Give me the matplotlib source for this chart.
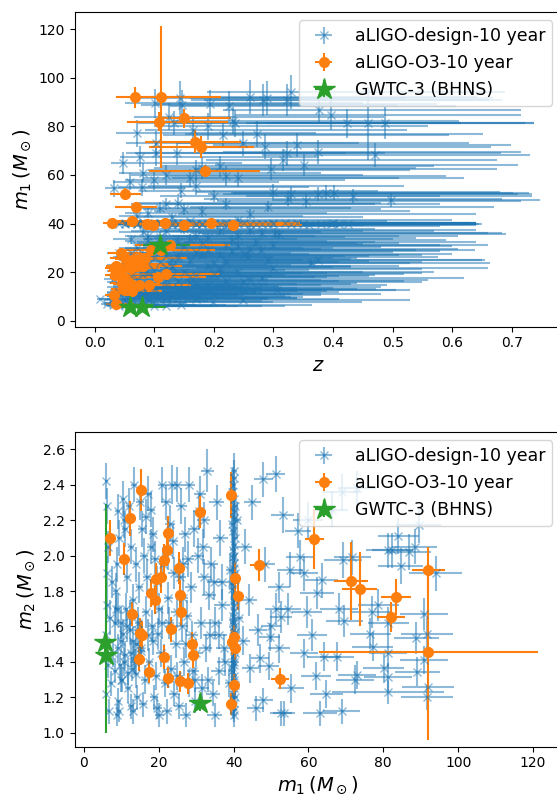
import numpy as np
import matplotlib.pyplot as plt

# aLIGO design sensitivity, 10 year BHNS catalogue
design_m1 = [6.0, 6.2, 6.5, 6.1, 6.3, 5.9, 6.4, 6.0, 6.6, 7.0,
             8.9, 7.8, 8.5, 9.0, 9.5, 8.8, 9.8, 10.2, 9.2, 10.0, 10.4, 8.3,
             12.0, 12.5, 11.5, 13.0, 12.2, 13.5, 11.8, 13.2, 12.6, 14.0, 13.8, 11.2,
             15.0, 15.5, 16.0, 14.8, 16.5, 15.2, 16.2, 15.8, 17.0, 14.5,
             18.0, 18.5, 19.0, 19.5, 20.0, 18.2, 20.5, 19.2, 18.8, 20.2, 17.5, 21.0,
             22.0, 23.0, 22.5, 24.0, 26.4, 22.8, 24.5, 23.2, 24.2, 22.2, 25.0, 21.5,
             26.0, 27.0, 28.0, 26.5, 28.5, 27.5, 29.0, 26.8, 28.2, 27.2, 29.8, 30.5, 31.2, 30.0, 29.5,
             32.0, 33.0, 34.0, 33.5, 35.0, 32.5, 36.0, 34.5, 35.0, 36.5, 37.0, 32.2,
             40.0, 39.8, 40.2, 40.1, 39.6, 40.4, 39.9, 40.0, 40.3, 39.7,
             40.1, 40.0, 39.8, 40.2, 40.0, 39.9, 40.3, 40.0, 39.7, 40.1,
             40.0, 40.4, 39.8, 40.2, 40.0, 39.9, 40.1, 41.0, 41.5, 39.0, 38.8,
             47.9, 51.2, 53.1, 52.1, 50.0, 49.4, 52.2, 52.7, 52.7, 51.4,
             49.7, 44.5, 45.9, 47.9, 55.4, 43.0, 44.0, 46.5, 45.0, 48.5,
             47.0, 42.5, 54.5, 55.0, 57.3, 58.8, 58.8, 57.8, 53.5,
             89.5, 91.6, 88.8, 84.0, 81.3, 89.1, 88.4, 92.0, 90.9, 91.6,
             94.0, 90.9, 86.8, 84.7, 81.3, 81.3, 81.3, 68.2, 69.6, 72.4,
             68.9, 66.2, 64.1, 71.7, 76.9, 81.3, 82.4, 76.5, 73.0, 62.3,
             77.2, 64.8, 67.6, 68.9, 69.2, 73.0, 63.0, 63.5, 78.7, 80.1,
             61.0, 60.0, 62.0, 59.5,
             7.5, 7.2, 9.0, 11.0, 10.8, 13.5, 14.2, 16.8, 17.2, 19.8,
             21.2, 21.8, 24.8, 25.5, 27.8, 29.2, 31.0, 31.5, 33.8, 36.8,
             37.5, 35.5, 23.8, 25.0, 12.6,
             40.0, 39.7, 40.3, 40.1, 39.9, 40.2, 39.8, 40.0, 40.4, 39.6,
             40.1, 40.0, 39.9, 40.3, 39.8, 40.2, 40.0, 39.7, 40.1, 40.4,
             39.9, 40.0, 40.2, 39.8, 40.1,
             8.2, 9.0, 9.6, 10.4, 11.0, 11.8, 12.4, 13.0, 13.6, 14.4, 15.2, 8.6, 10.0, 11.4, 12.8, 14.0, 9.4, 10.8,
             16.6, 18.4, 20.8, 23.6, 25.8, 27.4, 29.6, 31.8, 33.2, 34.8, 36.2, 37.8, 19.6, 22.6, 26.2, 30.8, 17.8]
design_m2 = [2.42, 2.28, 2.05, 1.90, 1.72, 1.55, 1.38, 1.22, 1.12, 1.65,
             1.10, 1.45, 1.80, 2.25, 2.10, 1.95, 1.62, 1.30, 1.18, 1.52, 2.32, 1.35,
             2.28, 2.05, 1.88, 1.75, 1.58, 1.42, 1.25, 1.12, 1.15, 1.95, 1.33, 1.70,
             2.30, 2.15, 2.00, 1.82, 1.68, 1.48, 1.30, 1.16, 1.55, 1.62,
             2.26, 2.12, 1.98, 1.85, 1.70, 1.60, 1.45, 1.32, 1.20, 1.10, 1.40, 2.40,
             2.30, 2.18, 2.02, 1.90, 1.76, 1.62, 1.50, 1.36, 1.22, 1.12, 2.40, 1.42,
             2.28, 2.12, 2.40, 1.95, 1.82, 1.66, 1.55, 1.40, 1.28, 1.10, 1.18, 2.00, 1.62, 1.45, 2.15,
             2.20, 2.48, 1.95, 1.78, 1.62, 1.48, 1.35, 1.22, 1.10, 2.10, 1.72, 1.88,
             2.48, 2.40, 2.32, 2.25, 2.18, 2.10, 2.03, 1.96, 1.90, 1.84,
             1.78, 1.72, 1.66, 1.60, 1.55, 1.50, 1.45, 1.40, 1.35, 1.30,
             1.25, 1.20, 1.15, 1.10, 2.00, 1.62, 1.38, 2.20, 1.65, 1.92, 1.28,
             2.43, 2.46, 2.23, 1.82, 1.60, 1.375, 1.476, 1.655, 1.11, 1.70,
             1.54, 1.363, 1.137, 1.185, 1.25, 2.05, 1.75, 1.58, 2.30, 1.95,
             1.42, 1.52, 1.70, 1.92, 2.14, 1.90, 1.448, 1.99, 1.11,
             2.17, 1.56, 1.533, 2.11, 1.45, 1.345, 2.05, 1.26, 1.67, 1.20,
             1.90, 1.41, 2.02, 1.94, 2.03, 1.23, 1.316, 1.70, 1.63, 1.30,
             2.36, 2.26, 1.43, 1.99, 1.68, 1.62, 2.03, 1.56, 1.326, 1.79,
             1.486, 1.22, 1.43, 1.122, 1.975, 2.38, 1.11, 1.86, 1.72, 1.363,
             1.55, 2.20, 1.32, 1.68,
             1.85, 1.28, 1.70, 2.15, 1.40, 2.40, 1.20, 1.88, 2.35, 1.56,
             1.95, 1.28, 1.68, 1.15, 1.98, 1.35, 2.35, 1.25, 1.55, 1.85,
             1.48, 2.30, 2.08, 1.32, 1.45,
             2.44, 2.36, 2.28, 2.21, 2.14, 2.06, 1.99, 1.93, 1.87, 1.81,
             1.75, 1.69, 1.63, 1.57, 1.52, 1.47, 1.42, 1.37, 1.32, 1.27,
             1.22, 1.17, 1.13, 1.58, 1.86,
             1.62, 1.48, 1.38, 1.56, 1.44, 1.34, 1.66, 1.52, 1.40, 1.58, 1.46, 1.70, 1.30, 1.60, 1.36, 1.50, 1.12, 2.20,
             2.22, 1.52, 1.62, 2.40, 1.88, 1.50, 1.30, 2.05, 1.30, 1.85, 1.55, 1.40, 1.14, 1.76, 1.60, 2.25, 2.05]
design_z = [0.04, 0.06, 0.03, 0.08, 0.05, 0.10, 0.07, 0.12, 0.145, 0.02,
            0.008, 0.199, 0.249, 0.05, 0.09, 0.03, 0.11, 0.06, 0.14, 0.04, 0.16, 0.09,
            0.07, 0.13, 0.04, 0.18, 0.10, 0.06, 0.15, 0.273, 0.306, 0.05, 0.21, 0.08,
            0.09, 0.16, 0.05, 0.12, 0.22, 0.07, 0.14, 0.25, 0.03, 0.19,
            0.11, 0.06, 0.17, 0.09, 0.24, 0.13, 0.04, 0.20, 0.08, 0.15, 0.28, 0.10,
            0.13, 0.07, 0.19, 0.11, 0.257, 0.05, 0.16, 0.09, 0.22, 0.12, 0.08, 0.30,
            0.10, 0.18, 0.06, 0.14, 0.23, 0.08, 0.279, 0.12, 0.17, 0.21, 0.07, 0.15, 0.300, 0.10, 0.26,
            0.12, 0.09, 0.19, 0.06, 0.24, 0.14, 0.303, 0.11, 0.17, 0.08, 0.21, 0.27,
            0.10, 0.18, 0.06, 0.25, 0.13, 0.32, 0.08, 0.21, 0.15, 0.396,
            0.11, 0.28, 0.05, 0.19, 0.425, 0.14, 0.23, 0.09, 0.35, 0.12,
            0.27, 0.07, 0.17, 0.30, 0.04, 0.38, 0.20, 0.16, 0.24, 0.10, 0.22,
            0.12, 0.20, 0.300, 0.330, 0.324, 0.355, 0.375, 0.389, 0.402, 0.434,
            0.497, 0.09, 0.15, 0.22, 0.17, 0.07, 0.26, 0.11, 0.18, 0.14,
            0.29, 0.13, 0.0316, 0.079, 0.0597, 0.16, 0.24, 0.10, 0.145,
            0.101, 0.143, 0.147, 0.125, 0.133, 0.194, 0.226, 0.261, 0.282, 0.289,
            0.329, 0.323, 0.376, 0.396, 0.423, 0.458, 0.488, 0.470, 0.375, 0.339,
            0.322, 0.316, 0.351, 0.285, 0.272, 0.235, 0.232, 0.215, 0.248, 0.296,
            0.071, 0.0465, 0.0764, 0.102, 0.138, 0.103, 0.18, 0.21, 0.165, 0.19,
            0.08, 0.12, 0.17, 0.22,
            0.10, 0.035, 0.17, 0.11, 0.20, 0.14, 0.09, 0.26, 0.07, 0.11,
            0.21, 0.06, 0.29, 0.13, 0.04, 0.19, 0.22, 0.13, 0.16, 0.12,
            0.26, 0.31, 0.363, 0.375, 0.249,
            0.15, 0.07, 0.22, 0.12, 0.33, 0.05, 0.17, 0.26, 0.10, 0.36,
            0.08, 0.20, 0.30, 0.13, 0.41, 0.06, 0.18, 0.24, 0.09, 0.34,
            0.14, 0.29, 0.11, 0.07, 0.40,
            0.05, 0.09, 0.13, 0.07, 0.11, 0.04, 0.15, 0.08, 0.12, 0.06, 0.17, 0.03, 0.10, 0.14, 0.05, 0.09, 0.12, 0.06,
            0.12, 0.16, 0.08, 0.20, 0.14, 0.25, 0.10, 0.18, 0.23, 0.09, 0.28, 0.15, 0.21, 0.13, 0.06, 0.24, 0.10]
design_m1_err = [0.4, 0.4, 0.4, 0.4, 0.4, 0.4, 0.4, 0.4, 0.5, 0.5,
                 0.5, 0.5, 0.6, 0.6, 0.6, 0.5, 0.6, 0.6, 0.6, 0.6, 0.6, 0.5,
                 0.8, 0.8, 0.7, 0.8, 0.8, 0.8, 0.7, 0.8, 0.8, 0.8, 0.8, 0.7,
                 1.0, 1.0, 1.0, 0.9, 1.0, 0.9, 1.0, 1.0, 1.0, 0.9,
                 1.1, 1.1, 1.1, 1.2, 1.2, 1.1, 1.2, 1.1, 1.1, 1.2, 1.0, 1.2,
                 1.3, 1.3, 1.3, 1.4, 1.5, 1.3, 1.4, 1.3, 1.4, 1.3, 1.4, 1.2,
                 1.5, 1.5, 1.6, 1.5, 1.6, 1.5, 1.6, 1.5, 1.6, 1.5, 1.7, 1.7, 1.7, 1.7, 1.6,
                 1.8, 1.8, 1.9, 1.9, 2.0, 1.8, 2.0, 1.9, 2.0, 2.0, 2.1, 1.8,
                 0.8, 0.8, 0.8, 0.8, 0.8, 0.8, 0.8, 0.8, 0.8, 0.8,
                 0.8, 0.8, 0.8, 0.8, 0.8, 0.8, 0.8, 0.8, 0.8, 0.8,
                 0.8, 0.8, 0.8, 0.8, 0.8, 0.8, 0.8, 1.0, 1.0, 1.0, 1.0,
                 2.5, 2.5, 3.0, 3.0, 2.8, 2.8, 3.0, 3.0, 3.0, 3.0,
                 2.8, 2.2, 2.3, 2.5, 3.5, 2.0, 2.2, 2.3, 2.3, 2.5,
                 2.4, 2.0, 3.5, 3.5, 3.5, 3.8, 3.8, 3.8, 3.0,
                 6.0, 7.0, 6.0, 5.5, 5.0, 6.0, 6.0, 7.0, 6.5, 7.0,
                 7.0, 6.5, 6.0, 6.0, 6.0, 15.0, 6.5, 5.0, 5.0, 5.0,
                 5.0, 4.5, 4.5, 5.0, 5.5, 5.5, 5.5, 5.5, 5.0, 4.5,
                 5.5, 4.5, 4.5, 5.0, 5.0, 5.0, 4.5, 4.5, 5.5, 5.5,
                 4.0, 4.0, 4.0, 4.0,
                 0.5, 0.5, 0.6, 0.7, 0.7, 0.8, 0.9, 1.0, 1.0, 1.2,
                 1.2, 1.3, 1.4, 1.4, 1.5, 1.6, 1.7, 1.8, 1.9, 2.0,
                 2.1, 2.0, 1.4, 1.4, 0.8,
                 0.8, 0.8, 0.8, 0.8, 0.8, 0.8, 0.8, 0.8, 0.8, 0.8,
                 0.8, 0.8, 0.8, 0.8, 0.8, 0.8, 0.8, 0.8, 0.8, 0.8,
                 0.8, 0.8, 0.8, 0.8, 0.8,
                 0.5, 0.6, 0.6, 0.6, 0.7, 0.7, 0.8, 0.8, 0.8, 0.9, 1.0, 0.5, 0.6, 0.7, 0.8, 0.8, 0.6, 0.7,
                 1.0, 1.1, 1.2, 1.4, 1.5, 1.5, 1.6, 1.8, 1.9, 2.0, 2.0, 2.1, 1.2, 1.3, 1.5, 1.7, 1.0]
design_m2_err = [0.10, 0.10, 0.09, 0.10, 0.08, 0.08, 0.07, 0.08, 0.07, 0.10,
                 0.06, 0.08, 0.10, 0.10, 0.10, 0.10, 0.09, 0.07, 0.07, 0.08, 0.10, 0.07,
                 0.10, 0.10, 0.09, 0.09, 0.08, 0.08, 0.08, 0.07, 0.07, 0.10, 0.08, 0.09,
                 0.10, 0.10, 0.10, 0.09, 0.09, 0.08, 0.08, 0.07, 0.09, 0.09,
                 0.10, 0.10, 0.10, 0.09, 0.09, 0.09, 0.08, 0.08, 0.07, 0.07, 0.08, 0.10,
                 0.10, 0.10, 0.10, 0.09, 0.09, 0.09, 0.08, 0.08, 0.07, 0.07, 0.10, 0.08,
                 0.10, 0.10, 0.10, 0.10, 0.09, 0.09, 0.08, 0.08, 0.08, 0.07, 0.07, 0.10, 0.09, 0.08, 0.10,
                 0.10, 0.12, 0.10, 0.09, 0.09, 0.08, 0.08, 0.07, 0.07, 0.10, 0.09, 0.10,
                 0.10, 0.10, 0.10, 0.10, 0.10, 0.10, 0.10, 0.10, 0.09, 0.09,
                 0.09, 0.09, 0.09, 0.09, 0.09, 0.08, 0.08, 0.08, 0.08, 0.08,
                 0.08, 0.07, 0.07, 0.07, 0.10, 0.09, 0.08, 0.10, 0.09, 0.09, 0.08,
                 0.10, 0.10, 0.10, 0.09, 0.09, 0.08, 0.08, 0.09, 0.07, 0.09,
                 0.08, 0.08, 0.07, 0.07, 0.08, 0.10, 0.09, 0.09, 0.10, 0.10,
                 0.08, 0.08, 0.09, 0.10, 0.10, 0.10, 0.08, 0.10, 0.07,
                 0.10, 0.09, 0.09, 0.10, 0.08, 0.08, 0.10, 0.08, 0.09, 0.07,
                 0.10, 0.08, 0.10, 0.10, 0.10, 0.07, 0.08, 0.09, 0.09, 0.08,
                 0.10, 0.10, 0.08, 0.10, 0.09, 0.09, 0.10, 0.09, 0.08, 0.09,
                 0.08, 0.08, 0.08, 0.07, 0.10, 0.10, 0.07, 0.10, 0.09, 0.08,
                 0.09, 0.10, 0.08, 0.09,
                 0.09, 0.07, 0.09, 0.10, 0.08, 0.10, 0.07, 0.10, 0.10, 0.09,
                 0.10, 0.08, 0.09, 0.07, 0.10, 0.08, 0.10, 0.08, 0.09, 0.10,
                 0.08, 0.10, 0.10, 0.08, 0.08,
                 0.10, 0.10, 0.10, 0.10, 0.10, 0.10, 0.10, 0.09, 0.09, 0.09,
                 0.09, 0.09, 0.09, 0.08, 0.08, 0.08, 0.08, 0.08, 0.08, 0.07,
                 0.07, 0.07, 0.07, 0.09, 0.09,
                 0.09, 0.08, 0.07, 0.08, 0.08, 0.07, 0.09, 0.08, 0.07, 0.09, 0.08, 0.09, 0.07, 0.09, 0.07, 0.08, 0.06, 0.10,
                 0.10, 0.08, 0.09, 0.11, 0.10, 0.08, 0.07, 0.10, 0.07, 0.10, 0.08, 0.08, 0.06, 0.09, 0.09, 0.10, 0.10]
design_z_lo = [0.02, 0.03, 0.015, 0.04, 0.03, 0.05, 0.04, 0.06, 0.07, 0.01,
               0.004, 0.09, 0.10, 0.03, 0.05, 0.02, 0.06, 0.04, 0.07, 0.02, 0.08, 0.05,
               0.04, 0.07, 0.02, 0.09, 0.05, 0.03, 0.08, 0.12, 0.14, 0.03, 0.10, 0.04,
               0.05, 0.08, 0.03, 0.06, 0.10, 0.04, 0.07, 0.11, 0.015, 0.09,
               0.06, 0.03, 0.08, 0.05, 0.11, 0.07, 0.02, 0.10, 0.04, 0.07, 0.12, 0.05,
               0.06, 0.04, 0.09, 0.05, 0.12, 0.03, 0.08, 0.05, 0.10, 0.06, 0.04, 0.13,
               0.05, 0.09, 0.03, 0.07, 0.10, 0.04, 0.12, 0.06, 0.08, 0.10, 0.03, 0.07, 0.13, 0.05, 0.12,
               0.06, 0.04, 0.09, 0.03, 0.11, 0.07, 0.13, 0.05, 0.08, 0.04, 0.10, 0.12,
               0.05, 0.08, 0.03, 0.11, 0.06, 0.14, 0.04, 0.10, 0.07, 0.16,
               0.05, 0.12, 0.025, 0.09, 0.17, 0.07, 0.10, 0.04, 0.15, 0.06,
               0.12, 0.035, 0.08, 0.13, 0.02, 0.16, 0.09, 0.08, 0.11, 0.05, 0.10,
               0.06, 0.09, 0.13, 0.14, 0.14, 0.15, 0.16, 0.16, 0.17, 0.18,
               0.20, 0.04, 0.07, 0.10, 0.08, 0.03, 0.12, 0.05, 0.08, 0.07,
               0.13, 0.06, 0.015, 0.04, 0.03, 0.08, 0.11, 0.05, 0.07,
               0.05, 0.07, 0.07, 0.06, 0.06, 0.09, 0.10, 0.12, 0.12, 0.13,
               0.14, 0.14, 0.16, 0.16, 0.17, 0.19, 0.20, 0.19, 0.16, 0.14,
               0.14, 0.13, 0.15, 0.12, 0.12, 0.10, 0.10, 0.10, 0.11, 0.13,
               0.035, 0.02, 0.035, 0.05, 0.07, 0.05, 0.08, 0.10, 0.08, 0.09,
               0.04, 0.06, 0.08, 0.10,
               0.05, 0.02, 0.08, 0.05, 0.09, 0.07, 0.04, 0.11, 0.04, 0.05,
               0.10, 0.03, 0.13, 0.06, 0.02, 0.09, 0.10, 0.06, 0.08, 0.06,
               0.12, 0.13, 0.15, 0.16, 0.11,
               0.07, 0.035, 0.10, 0.06, 0.14, 0.025, 0.08, 0.11, 0.05, 0.15,
               0.04, 0.09, 0.13, 0.06, 0.17, 0.03, 0.08, 0.11, 0.045, 0.15,
               0.07, 0.12, 0.05, 0.035, 0.17,
               0.025, 0.045, 0.06, 0.035, 0.05, 0.02, 0.07, 0.04, 0.06, 0.03, 0.08, 0.015, 0.05, 0.07, 0.025, 0.045, 0.06, 0.03,
               0.06, 0.08, 0.04, 0.09, 0.07, 0.11, 0.05, 0.08, 0.10, 0.04, 0.12, 0.07, 0.10, 0.06, 0.03, 0.11, 0.05]
design_z_hi = [0.10, 0.14, 0.08, 0.16, 0.12, 0.18, 0.15, 0.20, 0.22, 0.07,
               0.03, 0.25, 0.28, 0.15, 0.20, 0.12, 0.22, 0.18, 0.20, 0.14, 0.22, 0.19,
               0.20, 0.25, 0.16, 0.26, 0.24, 0.20, 0.26, 0.20, 0.20, 0.20, 0.27, 0.20,
               0.25, 0.28, 0.20, 0.26, 0.30, 0.22, 0.27, 0.30, 0.18, 0.30,
               0.28, 0.24, 0.30, 0.26, 0.33, 0.28, 0.20, 0.32, 0.24, 0.30, 0.34, 0.26,
               0.30, 0.26, 0.32, 0.30, 0.32, 0.24, 0.30, 0.28, 0.33, 0.28, 0.27, 0.36,
               0.30, 0.33, 0.27, 0.32, 0.35, 0.28, 0.36, 0.30, 0.33, 0.34, 0.28, 0.33, 0.36, 0.30, 0.35,
               0.32, 0.30, 0.35, 0.28, 0.37, 0.33, 0.38, 0.31, 0.34, 0.30, 0.36, 0.37,
               0.30, 0.34, 0.28, 0.38, 0.32, 0.32, 0.30, 0.36, 0.34, 0.20,
               0.32, 0.36, 0.26, 0.35, 0.22, 0.33, 0.37, 0.30, 0.30, 0.32,
               0.36, 0.28, 0.34, 0.34, 0.24, 0.26, 0.36, 0.33, 0.36, 0.31, 0.36,
               0.35, 0.38, 0.38, 0.38, 0.36, 0.36, 0.36, 0.34, 0.30, 0.30,
               0.25, 0.30, 0.33, 0.36, 0.35, 0.28, 0.38, 0.32, 0.35, 0.34,
               0.38, 0.32, 0.12, 0.28, 0.25, 0.35, 0.38, 0.32, 0.33,
               0.35, 0.38, 0.36, 0.36, 0.36, 0.38, 0.38, 0.38, 0.38, 0.38,
               0.36, 0.36, 0.34, 0.32, 0.30, 0.28, 0.25, 0.26, 0.34, 0.36,
               0.36, 0.36, 0.36, 0.38, 0.38, 0.38, 0.38, 0.38, 0.38, 0.38,
               0.30, 0.20, 0.30, 0.32, 0.35, 0.34, 0.36, 0.36, 0.36, 0.37,
               0.30, 0.33, 0.36, 0.37,
               0.20, 0.12, 0.24, 0.24, 0.28, 0.26, 0.22, 0.30, 0.22, 0.28,
               0.34, 0.24, 0.36, 0.30, 0.22, 0.35, 0.36, 0.32, 0.34, 0.33,
               0.38, 0.38, 0.30, 0.28, 0.28,
               0.33, 0.28, 0.36, 0.32, 0.30, 0.26, 0.34, 0.36, 0.31, 0.28,
               0.30, 0.35, 0.32, 0.33, 0.23, 0.27, 0.34, 0.36, 0.31, 0.30,
               0.33, 0.34, 0.32, 0.28, 0.24,
               0.14, 0.20, 0.22, 0.18, 0.22, 0.12, 0.24, 0.20, 0.22, 0.18, 0.26, 0.10, 0.22, 0.24, 0.15, 0.22, 0.22, 0.18,
               0.26, 0.30, 0.24, 0.33, 0.30, 0.35, 0.28, 0.33, 0.36, 0.28, 0.38, 0.32, 0.34, 0.30, 0.24, 0.36, 0.27]

# aLIGO O3 sensitivity, 10 year catalogue
o3_m1 = [7.0, 10.6, 12.2, 12.9, 15.3, 14.9, 15.5, 14.6, 17.4, 17.9,
         19.0, 19.4, 20.5, 21.5, 22.1, 22.4, 21.5, 22.4, 23.4, 25.5,
         25.7, 26.0, 25.7, 27.8, 29.0, 29.1, 31.0, 39.3, 40.3, 41.1,
         40.0, 39.5, 40.3, 40.1, 39.4, 46.7, 52.3, 61.6, 71.4, 73.7,
         83.3, 82.0, 92.0, 92.0]
o3_m2 = [2.10, 1.98, 2.21, 1.67, 2.37, 1.565, 1.55, 1.416, 1.343, 1.787,
         1.749, 1.87, 1.88, 1.975, 2.03, 2.125, 1.427, 1.31, 1.583, 1.93,
         1.78, 1.68, 1.29, 1.28, 1.50, 1.437, 2.246, 2.34, 1.873, 1.774,
         1.538, 1.51, 1.48, 1.27, 1.162, 1.945, 1.305, 2.094, 1.856, 1.81,
         1.766, 1.655, 1.92, 1.457]
o3_z = [0.035, 0.0316, 0.0627, 0.0466, 0.06, 0.0746, 0.045, 0.091, 0.05, 0.106,
        0.0346, 0.120, 0.042, 0.0316, 0.0555, 0.081, 0.06, 0.035, 0.07, 0.066,
        0.078, 0.05, 0.085, 0.0436, 0.111, 0.094, 0.127, 0.15, 0.028, 0.063,
        0.087, 0.097, 0.117, 0.195, 0.232, 0.069, 0.051, 0.185, 0.178, 0.168,
        0.149, 0.107, 0.067, 0.111]
o3_m1_err = [0.5, 0.6, 0.7, 0.7, 0.8, 0.8, 0.8, 0.8, 0.9, 0.9,
             1.0, 1.0, 1.0, 1.0, 1.1, 1.1, 1.0, 1.1, 1.1, 1.2,
             1.2, 1.2, 1.2, 1.3, 1.3, 1.3, 1.2, 1.0, 1.0, 1.0,
             1.0, 1.0, 1.0, 1.0, 1.0, 2.2, 2.4, 2.6, 4.5, 4.7,
             4.0, 3.8, 4.4, 29.3]
o3_m2_err = [0.10, 0.09, 0.10, 0.07, 0.12, 0.08, 0.08, 0.07, 0.06, 0.08,
             0.08, 0.09, 0.09, 0.09, 0.09, 0.10, 0.07, 0.06, 0.07, 0.09,
             0.08, 0.08, 0.06, 0.06, 0.07, 0.07, 0.09, 0.13, 0.09, 0.08,
             0.07, 0.07, 0.07, 0.06, 0.06, 0.09, 0.06, 0.17, 0.22, 0.21,
             0.10, 0.085, 0.13, 0.50]
o3_z_lo = [0.017, 0.015, 0.03, 0.02, 0.03, 0.035, 0.02, 0.04, 0.025, 0.05,
           0.017, 0.06, 0.02, 0.015, 0.027, 0.04, 0.03, 0.017, 0.035, 0.033,
           0.038, 0.025, 0.04, 0.022, 0.055, 0.045, 0.06, 0.07, 0.014, 0.03,
           0.04, 0.045, 0.055, 0.09, 0.11, 0.035, 0.026, 0.094, 0.087, 0.083,
           0.04, 0.053, 0.032, 0.05]
o3_z_hi = [0.03, 0.025, 0.05, 0.04, 0.05, 0.06, 0.04, 0.07, 0.04, 0.08,
           0.03, 0.09, 0.035, 0.025, 0.045, 0.065, 0.05, 0.03, 0.055, 0.055,
           0.065, 0.04, 0.07, 0.035, 0.09, 0.08, 0.10, 0.12, 0.022, 0.05,
           0.07, 0.08, 0.09, 0.15, 0.116, 0.035, 0.027, 0.093, 0.089, 0.078,
           0.08, 0.116, 0.10, 0.10]

# GWTC-3 BHNS events
gw_m1 = [5.6, 5.8, 31.0]
gw_m2 = [1.51, 1.44, 1.17]
gw_z = [0.059, 0.079, 0.11]
gw_m1_err = [0.5, 0.5, 1.0]
gw_m2_lo = [0.05, 0.44, 0.05]
gw_m2_hi = [0.05, 0.85, 0.05]
gw_z_lo = [0.02, 0.03, 0.03]
gw_z_hi = [0.02, 0.04, 0.05]

fig = plt.figure(figsize=(5.57, 7.96), dpi=100)
ax1 = fig.add_axes([0.134, 0.5896, 0.8733, 0.3957])
ax2 = fig.add_axes([0.134, 0.0619, 0.8733, 0.3957])

# top: m1 vs redshift
ax1.errorbar(design_z, design_m1, xerr=[design_z_lo, design_z_hi], yerr=design_m1_err,
             fmt='x', color='C0', alpha=0.5, label='aLIGO-design-10 year')
ax1.errorbar(o3_z, o3_m1, xerr=[o3_z_lo, o3_z_hi], yerr=o3_m1_err,
             fmt='o', color='C1', ms=7, label='aLIGO-O3-10 year')
ax1.errorbar(gw_z, gw_m1, xerr=[gw_z_lo, gw_z_hi], yerr=gw_m1_err,
             fmt='*', color='C2', ms=16, label='GWTC-3 (BHNS)')
ax1.set_xlim(-0.034, 0.783)
ax1.set_ylim(-2.47, 127.25)
ax1.set_xlabel(r'$z$', fontsize=14)
ax1.set_ylabel(r'$m_1\,(M_\odot)$', fontsize=14)
ax1.legend(loc='upper right', fontsize=12.5)

# bottom: m2 vs m1
ax2.errorbar(design_m1, design_m2, xerr=design_m1_err, yerr=design_m2_err,
             fmt='x', color='C0', alpha=0.5, label='aLIGO-design-10 year')
ax2.errorbar(o3_m1, o3_m2, xerr=o3_m1_err, yerr=o3_m2_err,
             fmt='o', color='C1', ms=7, label='aLIGO-O3-10 year')
ax2.errorbar(gw_m1, gw_m2, xerr=gw_m1_err, yerr=[gw_m2_lo, gw_m2_hi],
             fmt='*', color='C2', ms=16, label='GWTC-3 (BHNS)')
ax2.set_xlim(-2.47, 127.5)
ax2.set_ylim(0.921, 2.699)
ax2.set_xlabel(r'$m_1\,(M_\odot)$', fontsize=14, labelpad=3)
ax2.set_ylabel(r'$m_2\,(M_\odot)$', fontsize=14)
ax2.legend(loc='upper right', fontsize=12.5)

fig.savefig('out.png', dpi=100)
